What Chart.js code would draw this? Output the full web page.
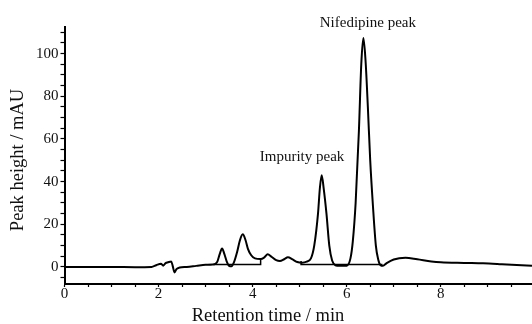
<!DOCTYPE html>
<html>
<head>
<meta charset="utf-8">
<script src="https://cdn.jsdelivr.net/npm/chart.js@4"></script>
<style>
  html, body { margin: 0; padding: 0; background: #fff; }
  #wrap { width: 532px; height: 324px; }
</style>
</head>
<body>
<div id="wrap"><canvas id="grafico"></canvas></div>
<script>
// Cromatograma: tiempo (min) y altura (mAU)
var tiempos = [0, 0.5, 1.0, 1.5, 1.85, 1.95, 2.05, 2.1, 2.15, 2.2, 2.27, 2.3, 2.34, 2.38, 2.45, 2.6, 2.8, 3.0, 3.15,
  3.25, 3.3, 3.35, 3.4, 3.45, 3.5, 3.55, 3.6, 3.67, 3.73, 3.79, 3.85, 3.9, 3.97, 4.05, 4.17, 4.25, 4.32, 4.4, 4.5,
  4.58, 4.67, 4.75, 4.85, 4.95, 5.05, 5.15, 5.24, 5.31, 5.39, 5.43, 5.468, 5.51, 5.57, 5.63, 5.69, 5.76, 5.85, 6.0,
  6.08, 6.13, 6.19, 6.26, 6.31, 6.355, 6.4, 6.45, 6.5, 6.56, 6.62, 6.67, 6.72, 6.77, 6.85, 7.0, 7.25, 7.5, 7.8,
  8.0, 8.5, 8.9, 9.3, 9.94];
var alturas = [0, 0, 0, -0.1, 0, 0.8, 1.5, 0.6, 1.8, 2.2, 2.6, 0.5, -2.6, -1, -0.3, 0, 0.5, 1.0, 1.1,
  2.5, 6, 8.7, 6, 2.5, 0.5, 0.3, 2, 7, 12.5, 15.3, 12.5, 8.5, 5.5, 4, 3.7, 4.5, 6, 4.8, 3.2,
  2.8, 3.6, 4.5, 3.5, 2.3, 2.0, 2.5, 4, 10, 25, 37, 43, 37, 25, 10, 3, 0.8, 0.5, 0.6,
  4, 12, 30, 64, 95, 107.3, 97, 75, 50, 28, 10, 3.5, 0.8, 0.5, 1.8, 3.5, 4.3, 3.6, 2.6,
  2.2, 1.9, 1.7, 1.3, 0.6];

// Líneas base de integración
var base1X = [3.17, 4.17, 4.17];
var base1Y = [1.2, 1.2, 3.7];
var base2X = [5.03, 5.03, 6.76];
var base2Y = [2.8, 1.2, 1.2];

var etiquetasX = [0, 2, 4, 6, 8];
var etiquetasY = [0, 20, 40, 60, 80, 100];

var anotaciones = [
  { texto: 'Impurity peak', x: 5.05, y: 51.5 },
  { texto: 'Nifedipine peak', x: 6.45, y: 114.5 }
];

function puntos(xs, ys) {
  return xs.map(function (x, i) { return { x: x, y: ys[i] }; });
}

var fuente = "'Liberation Serif', 'Times New Roman', serif";

var pluginTextos = {
  id: 'textos',
  afterDraw: function (chart) {
    var ctx = chart.ctx;
    var sx = chart.scales.x, sy = chart.scales.y;
    ctx.save();
    ctx.fillStyle = '#111';
    ctx.textAlign = 'center';
    ctx.textBaseline = 'middle';
    ctx.font = '15px ' + fuente;
    anotaciones.forEach(function (a) {
      ctx.fillText(a.texto, sx.getPixelForValue(a.x), sy.getPixelForValue(a.y));
    });
    ctx.font = '18.5px ' + fuente;
    ctx.fillText('Retention time / min', 268, 316);
    ctx.translate(18, 160);
    ctx.rotate(-Math.PI / 2);
    ctx.fillText('Peak height / mAU', 0, 0);
    ctx.restore();
  }
};

var ctx = document.getElementById('grafico').getContext('2d');
var grafico = new Chart(ctx, {
  type: 'line',
  data: {
    datasets: [{
      data: puntos(tiempos, alturas),
      borderColor: '#000',
      borderWidth: 2,
      pointRadius: 0,
      cubicInterpolationMode: 'monotone'
    }, {
      data: puntos(base1X, base1Y),
      borderColor: '#000',
      borderWidth: 1.5,
      pointRadius: 0,
      tension: 0
    }, {
      data: puntos(base2X, base2Y),
      borderColor: '#000',
      borderWidth: 1.5,
      pointRadius: 0,
      tension: 0
    }]
  },
  options: {
    responsive: true,
    maintainAspectRatio: false,
    animation: false,
    layout: { padding: { top: 27, right: 0, left: 0, bottom: 0 } },
    plugins: {
      legend: { display: false },
      tooltip: { enabled: false }
    },
    scales: {
      x: {
        type: 'linear',
        min: 0,
        max: 9.94,
        afterBuildTicks: function (axis) {
          var t = [];
          for (var v = 0; v <= 9.9; v += 0.5) t.push({ value: v });
          axis.ticks = t;
        },
        afterFit: function (axis) { axis.height = 40; },
        grid: { drawOnChartArea: false, tickLength: 3, color: '#000', tickWidth: 1.2 },
        border: { color: '#000', width: 2 },
        ticks: {
          autoSkip: false,
          maxRotation: 0,
          padding: -2,
          color: '#111',
          font: { family: fuente, size: 15 },
          callback: function (v) { return etiquetasX.indexOf(v) >= 0 ? String(v) : ''; }
        }
      },
      y: {
        type: 'linear',
        min: -8,
        max: 112.5,
        afterBuildTicks: function (axis) {
          var t = [];
          for (var v = -5; v <= 110; v += 5) t.push({ value: v });
          axis.ticks = t;
        },
        afterFit: function (axis) { axis.width = 64.5; },
        grid: { drawOnChartArea: false, tickLength: 4, color: '#000', tickWidth: 1.2 },
        border: { color: '#000', width: 2 },
        ticks: {
          autoSkip: false,
          padding: 2,
          color: '#111',
          font: { family: fuente, size: 15 },
          callback: function (v) { return etiquetasY.indexOf(v) >= 0 ? String(v) : ''; }
        }
      }
    }
  },
  plugins: [pluginTextos]
});
</script>
</body>
</html>
